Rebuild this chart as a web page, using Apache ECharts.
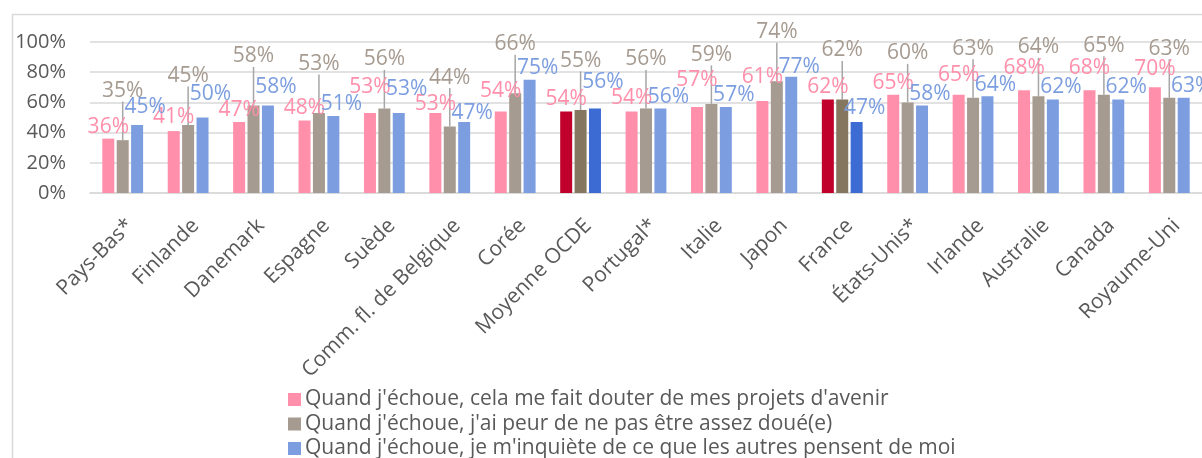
<!DOCTYPE html>
<html>
<head>
<meta charset="utf-8">
<script src="https://cdn.jsdelivr.net/npm/echarts@6/dist/echarts.min.js"></script>
<style>
  html, body { margin: 0; padding: 0; background: #fff; }
  #chart { width: 1202px; height: 458px; }
</style>
</head>
<body>
<div id="chart"></div>
<script>
// === Données ================================================================
const categories = [
  'Pays-Bas*', 'Finlande', 'Danemark', 'Espagne', 'Suède', 'Comm. fl. de Belgique',
  'Corée', 'Moyenne OCDE', 'Portugal*', 'Italie', 'Japon', 'France', 'États-Unis*',
  'Irlande', 'Australie', 'Canada', 'Royaume-Uni'
];
const seriesNames = [
  "Quand j'échoue, cela me fait douter de mes projets d'avenir",
  "Quand j'échoue, j'ai peur de ne pas être assez doué(e)",
  "Quand j'échoue, je m'inquiète de ce que les autres pensent de moi"
];
const douter   = [36, 41, 47, 48, 53, 53, 54, 54, 54, 57, 61, 62, 65, 65, 68, 68, 70];
const peur     = [35, 45, 58, 53, 56, 44, 66, 55, 56, 59, 74, 62, 60, 63, 64, 65, 63];
const inquiete = [45, 50, 58, 51, 53, 47, 75, 56, 56, 57, 77, 47, 58, 64, 62, 62, 63];
const highlighted = ['Moyenne OCDE', 'France'];
const yMin = 0, yMax = 100, yStep = 20;

// === Style ==================================================================
const pink = '#ff8fab', gray = '#a69b91', blue = '#7c9ee0';
const pinkDark = '#c0002b', grayDark = '#857660', blueDark = '#3d6bd4';
const txt = '#595959', grid = '#d9d9d9';
const FONT = '"Open Sans", "Noto Sans", sans-serif';
const LBL = 21;

// hauteur (px) du centre de l'étiquette au-dessus de la barre, comme dans l'original
const pinkLift = [12, 14, 12, 13, 26, 9, 20, 12, 13, 27, 24, 12, 12, 20, 22, 22, 18];
const blueLift = [18, 23, 18, 12, 24, 9, 12, 26, 11, 12, 10, 14, 11, 11, 12, 12, 12];
const grayLift = 49;

const withHighlight = (vals, dark) => vals.map((v, i) =>
  highlighted.includes(categories[i]) ? { value: v, itemStyle: { color: dark } } : v);

const label = color => ({
  show: true, position: 'top', distance: 0, color,
  fontFamily: FONT, fontSize: LBL, formatter: p => p.value + '%'
});

const chart = echarts.init(document.getElementById('chart'));
chart.setOption({
  animation: false,
  textStyle: { fontFamily: FONT },
  graphic: [{
    type: 'rect', left: 10, top: 12, silent: true,
    shape: { width: 1260, height: 520 },
    style: { fill: 'none', stroke: grid, lineWidth: 1.5 }
  }],
  grid: { left: 90, right: -2, top: 42, bottom: 265, containLabel: false },
  legend: {
    orient: 'vertical', left: 283, top: 384, height: 200, itemWidth: 13, itemHeight: 13, itemGap: 3.5,
    icon: 'rect', data: seriesNames,
    textStyle: { color: txt, fontSize: 21, fontFamily: FONT, padding: [0, 0, 0, -1] }
  },
  xAxis: {
    type: 'category', data: categories,
    axisLine: { lineStyle: { color: grid, width: 1.5 } },
    axisTick: { show: false },
    axisLabel: {
      rotate: 45, interval: 0, color: txt, fontSize: 21, fontFamily: FONT,
      margin: 22, verticalAlign: 'top'
    }
  },
  yAxis: {
    type: 'value', min: yMin, max: yMax, interval: yStep,
    axisLabel: { formatter: '{value}%', color: txt, fontSize: 20, fontFamily: FONT, margin: 24 },
    splitLine: { lineStyle: { color: grid, width: 1.5 } },
    axisLine: { show: false }, axisTick: { show: false }
  },
  series: [
    {
      name: seriesNames[0], type: 'bar', color: pink, barWidth: 12, barGap: '20%',
      data: withHighlight(douter, pinkDark), label: label(pink),
      labelLayout: p => ({ dy: -(pinkLift[p.dataIndex] - LBL / 2) })
    },
    {
      name: seriesNames[1], type: 'bar', color: gray, barWidth: 12, barGap: '20%',
      data: withHighlight(peur, grayDark), label: label(gray),
      labelLayout: { dy: -(grayLift - LBL / 2) },
      labelLine: { show: true, lineStyle: { color: '#a6a6a6', width: 1.5 } }
    },
    {
      name: seriesNames[2], type: 'bar', color: blue, barWidth: 12, barGap: '20%',
      data: withHighlight(inquiete, blueDark), label: label(blue),
      labelLayout: p => ({ dx: 8, dy: -(blueLift[p.dataIndex] - LBL / 2) })
    }
  ]
});
</script>
</body>
</html>
